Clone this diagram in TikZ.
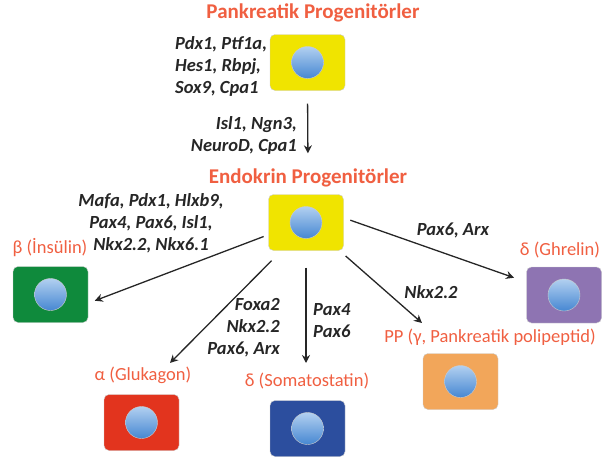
\documentclass[tikz,border=0pt]{standalone}
\usepackage{fontspec}
\setmainfont{Carlito}
\usetikzlibrary{calc,arrows.meta}
\definecolor{cellyellow}{RGB}{240,228,0}
\definecolor{cellgreen}{RGB}{15,138,60}
\definecolor{cellred}{RGB}{226,52,30}
\definecolor{cellblue}{RGB}{44,78,158}
\definecolor{cellpurple}{RGB}{142,116,178}
\definecolor{cellorange}{RGB}{242,166,90}
\definecolor{typered}{RGB}{240,95,65}
\tikzset{
  cellbox/.style={draw=black!20,rounded corners=5,minimum width=75,minimum height=56,inner sep=0},
  nucleus/.style={circle,draw=black!20,minimum size=32,inner sep=0,
    top color={rgb,255:red,178;green,208;blue,240},bottom color={rgb,255:red,70;green,135;blue,210}},
  stage/.style={text=typered,font=\bfseries\fontsize{21}{24}\selectfont},
  celltype/.style={text=typered,font=\fontsize{18.5}{21}\selectfont},
  gene/.style={text=black!85,font=\bfseries\itshape\fontsize{18.5}{22}\selectfont,inner sep=0},
  arr/.style={-{Stealth[length=8,width=8]},line width=1.3pt,black!85}
}
\newcommand{\Cell}[3]{
  \node[cellbox,fill=#3] (#1) at #2 {};
  \node[nucleus] (#1n) at (#1.center) {};
}

\begin{document}
\begin{tikzpicture}[x=1pt,y=-1pt]
  \useasboundingbox (0,0) rectangle (614,463);
  % pancreatic progenitor
  \node[stage] (panc) at (313,13) {Pankreatik Progenitörler};
  \Cell{top}{(307.5,62.5)}{cellyellow}
  \node[gene,anchor=west,align=left] (g1) at (175,66) {Pdx1, Ptf1a,\\Hes1, Rbpj,\\Sox9, Cpa1};
  % endocrine progenitor
  \node[stage] (endo) at (308,178) {Endokrin Progenitörler};
  \Cell{mid}{(306,222.5)}{cellyellow}
  \node[gene,anchor=east,align=right] (g2) at (297,135) {Isl1, Ngn3,\\NeuroD, Cpa1};
  \draw[arr,shorten <=13,shorten >=12] (top.south) -- (endo.north);
  % beta
  \node[celltype] (betatxt) at (50,248) {β (İnsülin)};
  \Cell{beta}{(50.5,294.5)}{cellgreen}
  \node[gene,align=center] (g3) at (151,223) {Mafa, Pdx1, Hlxb9,\\Pax4, Pax6, Isl1,\\Nkx2.2, Nkx6.1};
  \draw[arr,shorten <=5,shorten >=7] (mid.198) -- (beta.-13);
  % alpha
  \node[celltype] (alphatxt) at (143,375) {α (Glukagon)};
  \Cell{alpha}{(141.5,422.5)}{cellred}
  \node[gene,anchor=east,align=right] (g4) at (280,328) {Foxa2\\Nkx2.2\\Pax6, Arx};
  \coordinate (alphaend) at (170,363);
  \draw[arr,shorten <=14] (mid.229) -- (alphaend);
  % delta somatostatin
  \node[celltype] (somatxt) at (307,381) {δ (Somatostatin)};
  \Cell{soma}{(307.5,428.5)}{cellblue}
  \node[gene,anchor=west,align=left] (g5) at (313,321) {Pax4\\Pax6};
  \coordinate (somaend) at (306,363);
  \draw[arr,shorten <=17] (mid.south) -- (somaend);
  % PP
  \node[celltype] (pptxt) at (490,337) {PP (γ, Pankreatik polipeptid)};
  \Cell{pp}{(460.5,381.5)}{cellorange}
  \node[gene] (g7) at (431,292) {Nkx2.2};
  \coordinate (ppend) at (422,323);
  \draw[arr,shorten <=8] (mid.-40) -- (ppend);
  % ghrelin
  \node[celltype] (ghrtxt) at (560,250) {δ (Ghrelin)};
  \Cell{ghr}{(564,295)}{cellpurple}
  \node[gene] (g6) at (453,230) {Pax6, Arx};
  \draw[arr,shorten <=7,shorten >=13] (mid.7) -- (ghr.161);
\end{tikzpicture}
\end{document}
